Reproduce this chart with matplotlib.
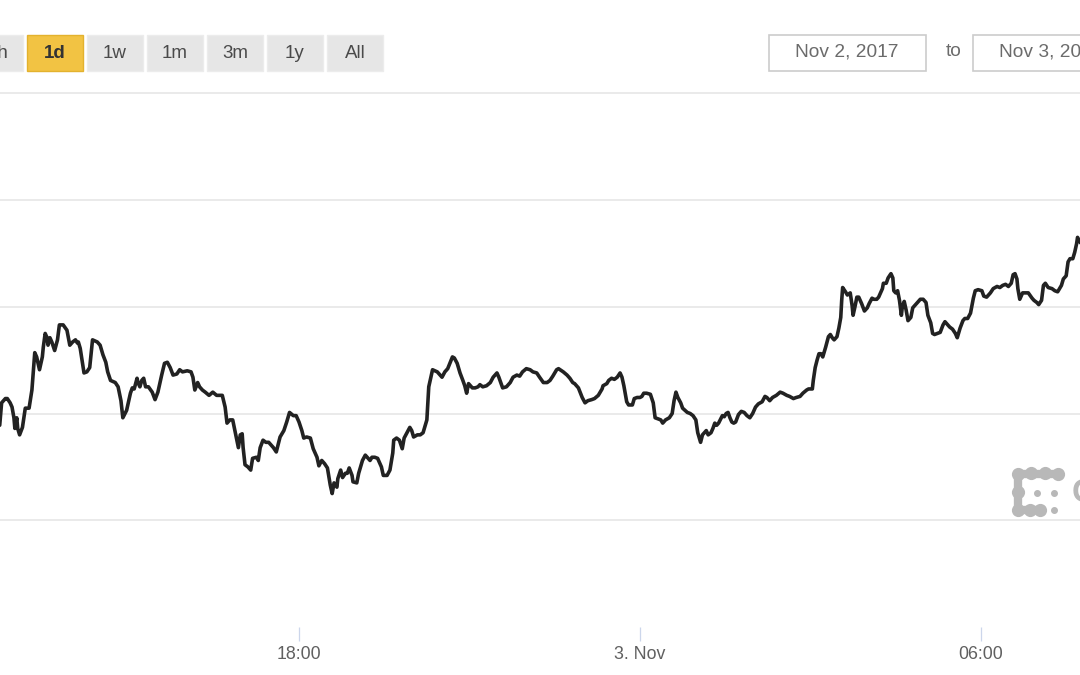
import matplotlib
matplotlib.use('Agg')
import matplotlib.pyplot as plt
from matplotlib.patches import Rectangle
from matplotlib.lines import Line2D

# ---------------- data (BTC price, Nov 2-3 2017) ----------------
# time in minutes since Nov 2 2017, 12:00
minutes = [
    44, 46, 50, 52, 55, 57, 59, 60, 62, 63, 65, 68, 71, 75, 78, 81, 83, 86, 89, 90,
    92, 94, 95, 97, 99, 102, 105, 107, 111, 115, 118, 121, 124, 126, 127, 129, 133, 136, 139, 142,
    147, 150, 153, 156, 158, 161, 166, 169, 172, 174, 178, 182, 184, 186, 189, 190, 192, 194, 196, 198,
    201, 205, 208, 211, 215, 218, 221, 224, 227, 231, 234, 237, 242, 246, 248, 250, 253, 255, 258, 261,
    265, 269, 273,
    279, 282, 284, 287, 290, 293, 296, 298, 300, 301, 303, 306, 309, 311, 315, 317, 319, 322, 325, 328,
    333, 336, 340, 344, 347, 350, 354, 357, 360, 363, 365, 368, 372, 375, 379, 381, 384, 387, 390, 393,
    395, 397, 400, 401, 404, 406, 409, 411, 413, 416, 417, 421, 423, 427, 430, 432, 435, 437, 440, 443,
    447, 449, 453, 456, 459, 460, 463, 466, 469, 471, 474, 477, 479, 481, 485, 488, 491,
    495, 497, 501, 506, 511, 514, 517, 522, 524, 527, 530, 533, 535, 537, 539, 543, 546, 549, 551, 554,
    558, 562, 565, 569, 571, 575, 579, 583, 586, 590, 593, 596, 600, 604, 607, 611, 614, 618, 622, 625,
    628, 632, 634, 639, 643, 646, 649, 651, 655, 659, 662, 665, 669, 672, 676, 680, 681, 685, 687, 690,
    693, 696, 699, 701, 703, 706, 708, 712, 714, 717, 720,
    722, 724, 727, 731, 734, 736, 739, 742, 744, 747, 751, 754, 756, 758, 760, 763, 765, 770, 773, 776,
    779, 781, 784, 786, 790, 792, 795, 797, 799, 801, 803, 807, 809, 811, 813, 815, 817, 819, 821, 824,
    827, 830, 833, 836, 839, 842, 845, 849, 852, 854, 857, 860, 864, 868, 871, 875, 878, 882, 885, 889,
    892, 896, 898, 902, 903, 905, 907, 909, 911, 913, 916, 919, 921, 923, 925, 928, 930, 932, 933, 934,
    937, 939, 942,
    944, 945, 947, 949, 951, 954, 957, 960, 962, 965, 967, 970, 972, 976, 977, 980, 982, 985, 987, 988,
    990, 992, 994, 996, 997, 999, 1001, 1003, 1006, 1008, 1012, 1016, 1019, 1022, 1024, 1027, 1029, 1031, 1034, 1037,
    1040, 1042, 1044, 1047, 1050, 1053, 1055, 1058, 1061, 1063, 1066, 1069, 1072, 1074, 1077, 1081, 1083, 1086, 1090, 1093,
    1097, 1100, 1103, 1106, 1109, 1112, 1114, 1116, 1118, 1119, 1121, 1124, 1128, 1130, 1134, 1136, 1139, 1141, 1144, 1146,
    1148, 1151, 1155, 1158, 1161, 1165, 1167, 1170, 1172, 1174, 1177, 1179, 1181, 1182, 1185,
]
price = [
    7089, 7110, 7114, 7114, 7110, 7106, 7096, 7086, 7096, 7086, 7080, 7087, 7105, 7105, 7122, 7157, 7153, 7141, 7153, 7162,
    7175, 7171, 7164, 7171, 7167, 7159, 7169, 7183, 7183, 7178, 7164, 7167, 7169, 7166, 7167, 7161, 7138, 7139, 7143, 7169,
    7167, 7164, 7155, 7148, 7139, 7131, 7129, 7125, 7112, 7096, 7103, 7119, 7124, 7123, 7133, 7129, 7125, 7131, 7133, 7125,
    7125, 7120, 7113, 7120, 7136, 7147, 7148, 7143, 7136, 7137, 7141, 7139, 7140, 7139, 7134, 7122, 7129, 7125, 7122, 7120,
    7117, 7120, 7117,
    7117, 7106, 7091, 7094, 7094, 7081, 7068, 7080, 7081, 7068, 7052, 7050, 7047, 7058, 7059, 7056, 7068, 7075, 7073, 7073,
    7068, 7064, 7078, 7084, 7092, 7101, 7098, 7098, 7092, 7084, 7077, 7078, 7077, 7067, 7059, 7051, 7056, 7053, 7049, 7033,
    7025, 7035, 7031, 7039, 7047, 7040, 7044, 7044, 7049, 7042, 7036, 7035, 7044, 7056, 7061, 7059, 7056, 7059, 7059, 7058,
    7050, 7042, 7042, 7047, 7063, 7075, 7077, 7075, 7067, 7077, 7082, 7087, 7084, 7078, 7080, 7080, 7082,
    7094, 7125, 7141, 7139, 7134, 7139, 7142, 7153, 7152, 7147, 7138, 7131, 7126, 7119, 7128, 7124, 7124, 7125, 7127, 7125,
    7126, 7129, 7134, 7138, 7134, 7124, 7125, 7129, 7134, 7136, 7135, 7139, 7142, 7141, 7139, 7138, 7134, 7129, 7129, 7131,
    7135, 7141, 7142, 7139, 7136, 7133, 7129, 7128, 7124, 7115, 7110, 7112, 7113, 7114, 7117, 7123, 7126, 7128, 7131, 7133,
    7132, 7134, 7138, 7134, 7126, 7111, 7108, 7108, 7114, 7115, 7115,
    7116, 7119, 7119, 7118, 7110, 7096, 7095, 7094, 7091, 7094, 7096, 7100, 7112, 7120, 7115, 7110, 7105, 7101, 7100, 7098,
    7094, 7082, 7073, 7080, 7084, 7080, 7082, 7086, 7091, 7089, 7091, 7098, 7097, 7100, 7101, 7096, 7092, 7091, 7092, 7099,
    7102, 7101, 7098, 7096, 7100, 7106, 7109, 7111, 7116, 7115, 7112, 7115, 7117, 7120, 7119, 7117, 7116, 7114, 7115, 7116,
    7119, 7122, 7123, 7123, 7131, 7143, 7150, 7156, 7156, 7153, 7162, 7172, 7174, 7171, 7169, 7172, 7180, 7190, 7206, 7218,
    7214, 7211, 7213,
    7201, 7192, 7200, 7209, 7209, 7203, 7196, 7199, 7203, 7208, 7207, 7207, 7209, 7217, 7222, 7222, 7227, 7231, 7227, 7215,
    7213, 7215, 7206, 7192, 7200, 7205, 7197, 7187, 7190, 7199, 7203, 7207, 7207, 7204, 7192, 7185, 7175, 7174, 7175, 7176,
    7183, 7186, 7184, 7181, 7179, 7175, 7171, 7180, 7187, 7189, 7189, 7194, 7208, 7215, 7216, 7215, 7210, 7209, 7213, 7217,
    7219, 7218, 7220, 7221, 7219, 7222, 7230, 7231, 7226, 7217, 7207, 7213, 7213, 7213, 7208, 7206, 7204, 7202, 7206, 7220,
    7222, 7218, 7217, 7215, 7214, 7220, 7226, 7229, 7242, 7245, 7245, 7251, 7259, 7265, 7260,
]
grid_levels = [7000, 7100, 7200, 7300, 7400]
tick_minutes = [360, 720, 1080]
tick_labels = ['18:00', '3. Nov', '06:00']
range_buttons = ['1h', '1d', '1w', '1m', '3m', '1y', 'All']
selected_button = '1d'
date_from = 'Nov 2, 2017'
date_to = 'Nov 3, 2017'

# ---------------- figure ----------------
W, H = 1080, 675
plt.rcParams['font.family'] = ['Liberation Sans', 'DejaVu Sans']
fig = plt.figure(figsize=(W / 100, H / 100), dpi=100)
fig.patch.set_facecolor('white')


def fx(px):
    return px / W


def fy(py):
    return 1 - py / H


ax_top_px, ax_bot_px = 80, 627
ax = fig.add_axes([0, fy(ax_bot_px), 1, fy(ax_top_px) - fy(ax_bot_px)])
ax.set_facecolor('white')
ax.plot(minutes, price, color='#222222', lw=2.6, solid_joinstyle='round',
        solid_capstyle='round', zorder=3)
ax.set_xlim(44.3, 1184.6)
ax.set_ylim(6900, 6900 + (ax_bot_px - ax_top_px) / 106.75 * 100)
ax.set_yticks(grid_levels)
ax.yaxis.grid(True, color='#e6e6e6', lw=1.2, zorder=0)
ax.tick_params(axis='y', left=False, labelleft=False)
ax.set_xticks(tick_minutes)
ax.set_xticklabels(tick_labels)
ax.tick_params(axis='x', direction='out', length=10, width=0.9, color='#ccd6eb',
               labelsize=12.8, labelcolor='#606060', pad=3.5)
for s in ax.spines.values():
    s.set_visible(False)

# ---------------- range selector buttons ----------------
bw, bh, by = 56, 36, 35
for i, lab in enumerate(range_buttons):
    left = -33 + 60 * i
    sel = lab == selected_button
    fig.add_artist(Rectangle((fx(left), fy(by + bh)), fx(bw), bh / H,
                             transform=fig.transFigure,
                             facecolor='#f2c343' if sel else '#e6e6e6',
                             edgecolor='#e3b22e' if sel else '#ececec', lw=1))
    cx = left + bw / 2 + (3 if i == 0 else 0)
    fig.text(fx(cx), fy(by + bh / 2), lab, ha='center', va='center',
             fontsize=13.5, color='#333333' if sel else '#4a4a4a',
             fontweight='bold' if sel else 'normal')

# ---------------- date inputs ----------------
for left, txt in [(769, date_from), (973, date_to)]:
    fig.add_artist(Rectangle((fx(left), fy(71)), fx(157), 36 / H,
                             transform=fig.transFigure, facecolor='white',
                             edgecolor='#cccccc', lw=1.2))
    fig.text(fx(left + 78), fy(52), txt, ha='center', va='center',
             fontsize=13.8, color='#6b6b6b')
fig.text(fx(954), fy(52), 'to', ha='center', va='center', fontsize=13.8, color='#6b6b6b')

# ---------------- watermark logo ----------------
wm = '#b8b8b8'
path_x = [1058, 1018, 1018, 1040]
path_y = [474, 474, 510, 510]
fig.add_artist(Line2D([fx(v) for v in path_x], [fy(v) for v in path_y],
                      transform=fig.transFigure, color=wm, lw=6.0,
                      solid_capstyle='round', solid_joinstyle='round'))
beads = [(1018, 474), (1031, 473), (1045, 473), (1058, 474),
         (1018, 492), (1018, 510), (1030, 510), (1040, 510)]
fig.add_artist(Line2D([fx(p[0]) for p in beads], [fy(p[1]) for p in beads],
                      transform=fig.transFigure, ls='none', marker='o',
                      ms=8.5, color=wm, mec=wm))
dots = [(1037, 493), (1054, 493), (1054, 510)]
fig.add_artist(Line2D([fx(p[0]) for p in dots], [fy(p[1]) for p in dots],
                      transform=fig.transFigure, ls='none', marker='o',
                      ms=4, color=wm, mec=wm))
fig.text(fx(1072), fy(494), 'C', ha='left', va='center', fontsize=24,
         color=wm, fontweight='bold')

fig.savefig('out.png', dpi=100, facecolor='white')
